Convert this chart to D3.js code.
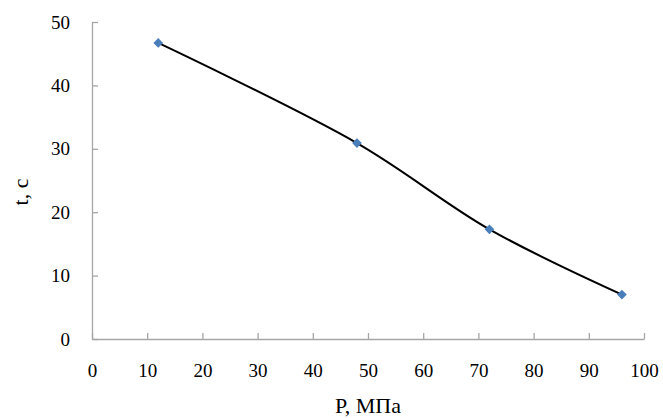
<!DOCTYPE html>
<html>
<head>
<meta charset="utf-8">
<script src="https://cdn.jsdelivr.net/npm/d3@7"></script>
<style>
  body { margin: 0; background: #fff; }
</style>
</head>
<body>
<div class="chartContainer"></div>
<script>
const pressure = [12, 48, 72, 96];
const time = [46.7, 30.9, 17.3, 7.0];
const xTicks = [0, 10, 20, 30, 40, 50, 60, 70, 80, 90, 100];
const yTicks = [0, 10, 20, 30, 40, 50];
const xTitle = "P, МПа";
const yTitle = "t, c";

const w = 663;
const h = 418;
const plotLeft = 92, plotRight = 644, plotTop = 22, plotBottom = 339;
const serif = "'Liberation Serif'";

const svg = d3.select(".chartContainer")
  .append("svg")
  .attr("width", w)
  .attr("height", h);

const xScale = d3.scaleLinear().domain([0, 100]).range([plotLeft, plotRight]);
const yScale = d3.scaleLinear().domain([0, 50]).range([plotBottom, plotTop]);

// X axis, ticks point up into the plot
const xAxis = d3.axisBottom(xScale)
  .tickValues(xTicks)
  .tickSize(-6)
  .tickPadding(25)
  .tickSizeOuter(0);

const xg = svg.append("g")
  .attr("transform", "translate(0," + plotBottom + ")")
  .call(xAxis);
xg.attr("font-family", null).attr("font-size", null);
xg.select(".domain").attr("stroke", "#a6a6a6").attr("stroke-width", 1.3);
xg.selectAll(".tick line").attr("stroke", "#a6a6a6").attr("stroke-width", 1.3);
xg.selectAll(".tick text")
  .style("font-family", serif)
  .style("font-size", "19px")
  .attr("fill", "#000");

// Y axis, ticks point right into the plot
const yAxis = d3.axisLeft(yScale)
  .tickValues(yTicks)
  .tickSize(-6)
  .tickPadding(22)
  .tickSizeOuter(0);

const yg = svg.append("g")
  .attr("transform", "translate(" + plotLeft + ",0)")
  .call(yAxis);
yg.attr("font-family", null).attr("font-size", null);
yg.select(".domain").attr("stroke", "#a6a6a6").attr("stroke-width", 1.3);
yg.selectAll(".tick line").attr("stroke", "#a6a6a6").attr("stroke-width", 1.3);
yg.selectAll(".tick text")
  .style("font-family", serif)
  .style("font-size", "19px")
  .attr("fill", "#000");

// axis titles
svg.append("text")
  .attr("x", (plotLeft + plotRight) / 2)
  .attr("y", 413)
  .attr("text-anchor", "middle")
  .style("font-family", serif)
  .style("font-size", "22px")
  .text(xTitle);

svg.append("text")
  .attr("transform", "translate(28,192)rotate(-90)")
  .attr("text-anchor", "middle")
  .style("font-family", serif)
  .style("font-size", "22px")
  .text(yTitle);

// smoothed line
const data = pressure.map((p, i) => ({ p: p, t: time[i] }));

const line = d3.line()
  .x((d) => xScale(d.p))
  .y((d) => yScale(d.t))
  .curve(d3.curveCatmullRom.alpha(0.5));

svg.append("path")
  .datum(data)
  .attr("fill", "none")
  .attr("stroke", "#000")
  .attr("stroke-width", 2)
  .attr("d", line);

// diamond markers
svg.selectAll(".marker")
  .data(data)
  .enter()
  .append("path")
  .attr("class", "marker")
  .attr("d", d3.symbol().type(d3.symbolDiamond2).size(60))
  .attr("transform", (d) => "translate(" + xScale(d.p) + "," + yScale(d.t) + ")")
  .attr("fill", "#4a7ebb");
</script>
</body>
</html>
